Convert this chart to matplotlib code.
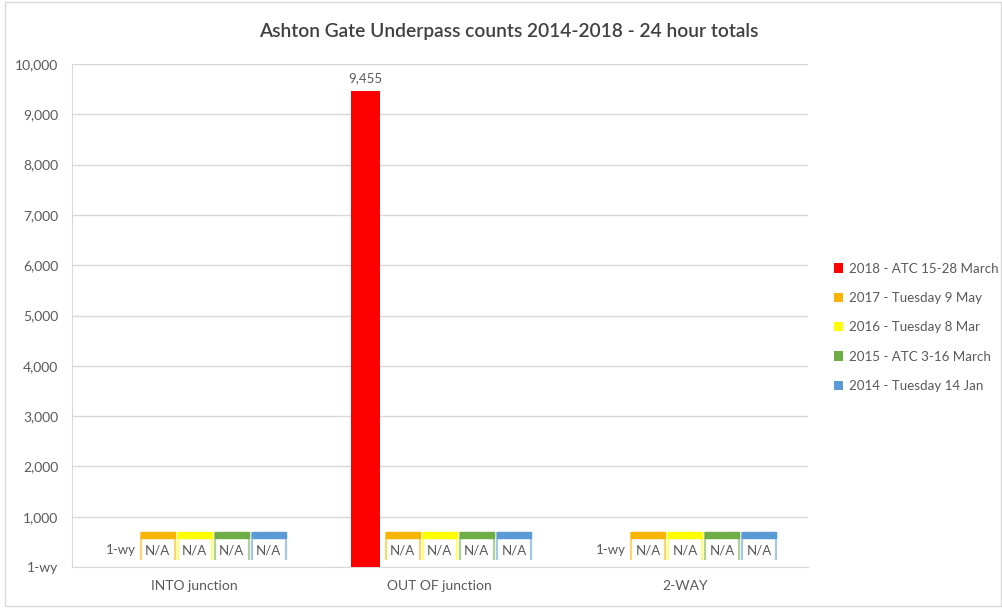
import matplotlib.pyplot as plt
from matplotlib.patches import Rectangle
import numpy as np

plt.rcParams['font.family'] = ['Lato', 'DejaVu Sans']

# chart data
categories = ['INTO junction', 'OUT OF junction', '2-WAY']
series_names = ['2018 - ATC 15-28 March', '2017 - Tuesday 9 May', '2016 - Tuesday 8 Mar',
                '2015 - ATC 3-16 March', '2014 - Tuesday 14 Jan']
series_colors = ['#FF0000', '#F7B500', '#FFFF00', '#6FAD47', '#5B9BD5']
# None = no count that year ("N/A"); 0 is shown as "1-wy" in the source number format
v2018 = [0, 9455, 0]
v2017 = [None, None, None]
v2016 = [None, None, None]
v2015 = [None, None, None]
v2014 = [None, None, None]
series_values = [v2018, v2017, v2016, v2015, v2014]
yticks = list(range(0, 10001, 1000))

grey = '#595959'

fig = plt.figure(figsize=(10.02, 6.08), dpi=100)
ax = fig.add_axes([0.0719, 0.0674, 0.7341, 0.8273])

x = np.arange(len(categories))
slot = 0.151
bar_w = 0.118
box_w = 0.138

for i, (name, col, vals) in enumerate(zip(series_names, series_colors, series_values)):
    xs = x + (i - 2) * slot
    heights = [v if v is not None else 0 for v in vals]
    ax.bar(xs, heights, width=bar_w, color=col, label=name, zorder=3)
    for xc, v in zip(xs, vals):
        if v is None:
            # N/A label box, drawn like the Excel callout: thick top, faint sides
            left, right = xc - box_w / 2, xc + box_w / 2
            ax.add_patch(Rectangle((left, 139), box_w, 557, facecolor='white',
                                   edgecolor='none', zorder=4))
            ax.vlines([left, right], 139, 696, colors=col, linewidth=1.6, alpha=0.55, zorder=5)
            ax.add_patch(Rectangle((left, 580), box_w, 116, facecolor=col,
                                   edgecolor=col, linewidth=1.0, zorder=5))
            ax.text(xc, 330, 'N/A', ha='center', va='center', fontsize=9.5, color=grey, zorder=6)
        elif v == 0:
            ax.text(xc, 330, '1-wy', ha='center', va='center', fontsize=9.5, color=grey, zorder=6)
        else:
            ax.text(xc, v + 150, f'{v:,}', ha='center', va='bottom', fontsize=9.5, color=grey, zorder=6)

ax.set_xlim(-0.5, 2.5)
ax.set_ylim(0, 10000)
ax.set_yticks(yticks)
ax.set_yticklabels(['1-wy' if t == 0 else f'{t:,}' for t in yticks])
ax.set_xticks(x)
ax.set_xticklabels(categories)
ax.tick_params(axis='both', length=0, colors=grey, labelsize=10)
ax.tick_params(axis='y', pad=10)
ax.tick_params(axis='x', pad=9)
ax.grid(axis='y', color='#D9D9D9', linewidth=1, zorder=0)
for s in ['top', 'right']:
    ax.spines[s].set_visible(False)
ax.spines['left'].set_color('#D9D9D9')
ax.spines['bottom'].set_color('#D9D9D9')

fig.text(0.508, 0.949, 'Ashton Gate Underpass counts 2014-2018 - 24 hour totals',
         ha='center', va='center', fontsize=13.8, color='#404040', fontweight='semibold')

fig.legend(loc='upper left', bbox_to_anchor=(0.827, 0.577), frameon=False, fontsize=9.6,
           labelcolor=grey, handlelength=0.7, handleheight=0.7, handletextpad=0.4,
           labelspacing=1.3, borderaxespad=0)

fig.patches.append(Rectangle((0.005, 0.004), 0.994, 0.992, transform=fig.transFigure,
                             fill=False, edgecolor='#D9D9D9', linewidth=1))

fig.savefig('out.png', dpi=100)
